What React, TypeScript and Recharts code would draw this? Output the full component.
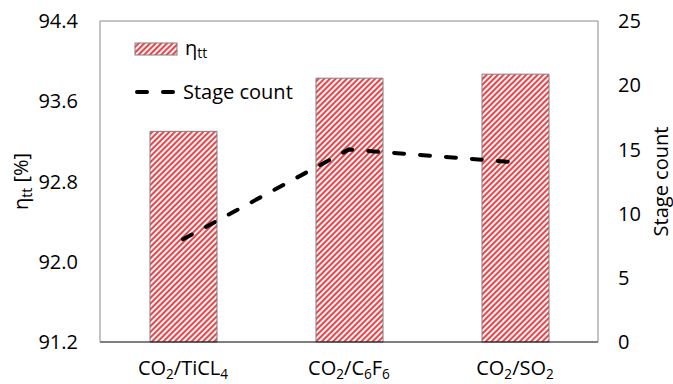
import { ComposedChart, Bar, Line, XAxis, YAxis, Legend, ReferenceLine, Label } from 'recharts';

const FONT = '"Open Sans", sans-serif';

// "_n" marks a subscript digit
const categories = ['CO_2/TiCL_4', 'CO_2/C_6F_6', 'CO_2/SO_2'];
const efficiency = [93.3, 93.83, 93.87];
const stageCount = [8, 15, 14];
const effTicks = [91.2, 92.0, 92.8, 93.6, 94.4];
const stageTicks = [0, 5, 10, 15, 20, 25];

const data = categories.map((name, i) => ({ name, eff: efficiency[i], stages: stageCount[i] }));

const withSubs = (s: string, size: number) =>
  s.split(/_(\d)/).map((part, i) =>
    i % 2 === 1 ? (
      <tspan key={i} dy={4} fontSize={size * 0.68}>
        {part}
      </tspan>
    ) : (
      <tspan key={i} dy={i === 0 ? 0 : -4}>
        {part}
      </tspan>
    )
  );

const Hatch = ({ id }: { id: string }) => (
  <pattern id={id} patternUnits="userSpaceOnUse" width={4} height={4} patternTransform="rotate(45)">
    <rect width={4} height={4} fill="#fff4f4" />
    <line x1={1} y1={0} x2={1} y2={4} stroke="#e3262d" strokeWidth={1.7} />
  </pattern>
);

const CategoryTick = ({ x, y, payload }: any) => (
  <text x={x} y={y + 31} textAnchor="middle" fontSize={20} fill="#000">
    {withSubs(payload.value, 20)}
  </text>
);

const renderLegend = () => (
  <svg width={200} height={80} style={{ display: 'block' }}>
    <defs>
      <Hatch id="hatch-legend" />
    </defs>
    <rect x={7} y={13} width={42} height={12} fill="url(#hatch-legend)" stroke="#7f7f7f" />
    <text x={57} y={25} fontSize={20} fill="#000">
      η<tspan dy={3} fontSize={14}>tt</tspan>
    </text>
    <line x1={9} y1={62} x2={47} y2={62} stroke="#000" strokeWidth={4} strokeDasharray="10 16" strokeLinecap="round" />
    <text x={55} y={69} fontSize={20} fill="#000">
      Stage count
    </text>
  </svg>
);

export default function App() {
  return (
    <div style={{ position: 'absolute', left: 0, top: 0, fontFamily: FONT }}>
      <ComposedChart width={673} height={384} data={data} margin={{ top: 21, right: 10, bottom: 0, left: 0 }}>
        <defs>
          <Hatch id="hatch" />
        </defs>
        <XAxis
          dataKey="name"
          interval={0}
          height={42}
          tickLine={false}
          tickSize={0}
          axisLine={{ stroke: '#000', strokeWidth: 1.2 }}
          tick={<CategoryTick />}
        />
        <YAxis
          yAxisId="left"
          width={100}
          domain={[91.2, 94.4]}
          ticks={effTicks}
          tickFormatter={(v: number) => v.toFixed(1)}
          tickLine={false}
          tickSize={0}
          tickMargin={22}
          axisLine={{ stroke: '#898989' }}
          tick={{ fontSize: 20, fill: '#000' }}
        >
          <Label
            content={({ viewBox }: any) => (
              <text
                transform={`translate(${viewBox.x + 28},${viewBox.y + viewBox.height / 2}) rotate(-90)`}
                textAnchor="middle"
                fontSize={20}
                fill="#000"
              >
                η<tspan dy={4} fontSize={14}>tt</tspan>
                <tspan dy={-4}> [%]</tspan>
              </text>
            )}
          />
        </YAxis>
        <YAxis
          yAxisId="right"
          orientation="right"
          width={65}
          domain={[0, 25]}
          ticks={stageTicks}
          tickLine={false}
          tickSize={0}
          tickMargin={20}
          axisLine={{ stroke: '#898989' }}
          tick={{ fontSize: 20, fill: '#000' }}
        >
          <Label
            content={({ viewBox }: any) => (
              <text
                transform={`translate(${viewBox.x + 70},${viewBox.y + viewBox.height / 2}) rotate(-90)`}
                textAnchor="middle"
                fontSize={20}
                fill="#000"
              >
                Stage count
              </text>
            )}
          />
        </YAxis>
        <ReferenceLine yAxisId="left" y={94.4} stroke="#898989" />
        <Bar
          yAxisId="left"
          dataKey="eff"
          barSize={67}
          fill="url(#hatch)"
          stroke="#7f7f7f"
          strokeWidth={1}
          isAnimationActive={false}
        />
        <Line
          yAxisId="right"
          dataKey="stages"
          type="linear"
          stroke="#000"
          strokeWidth={4}
          strokeDasharray="10 16"
          strokeLinecap="round"
          dot={false}
          activeDot={false}
          isAnimationActive={false}
        />
        <Legend
          layout="vertical"
          align="center"
          verticalAlign="middle"
          wrapperStyle={{ left: 128, top: 30, width: 200 }}
          content={renderLegend}
        />
      </ComposedChart>
    </div>
  );
}
